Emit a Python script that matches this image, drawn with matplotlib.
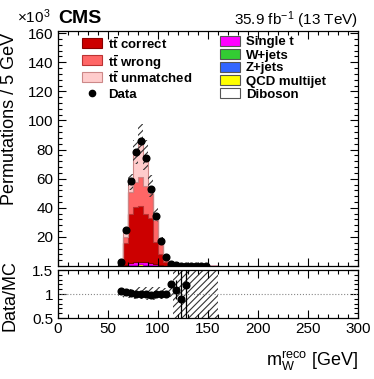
import numpy as np
import matplotlib
matplotlib.use('Agg')
import matplotlib.pyplot as plt
from matplotlib.ticker import MultipleLocator, FuncFormatter, FixedLocator
from matplotlib.patches import Rectangle

plt.rcParams['font.family'] = ['Liberation Sans', 'DejaVu Sans']
plt.rcParams['mathtext.fontset'] = 'custom'
plt.rcParams['mathtext.rm'] = 'Liberation Sans'
plt.rcParams['mathtext.bf'] = 'Liberation Sans:bold'
plt.rcParams['mathtext.it'] = 'Liberation Sans:italic'
plt.rcParams['hatch.linewidth'] = 0.8

# 5 GeV bins from 60 to 160 GeV, values in units of 10^3 permutations
edges = np.arange(60, 165, 5)

tt_correct = [1.0, 15.0, 34.0, 38.0, 38.0, 33.0, 31.0, 15.0, 7.5, 2.3, 0.35,
              0.1, 0.1, 0.08, 0, 0, 0, 0, 0, 0]
tt_wrong = [0.6, 4.0, 15.0, 17.5, 20.0, 19.5, 17.0, 15.5, 8.5, 3.0, 0.5,
            0.12, 0.13, 0.1, 0, 0, 0, 0, 0, 0]
tt_unmatched = [0.57, 3.8, 6.5, 19.5, 24.8, 20.1, 4.3, 2.9, 0.9, 1.0, 0.31,
                0.1, 0.1, 0.07, 0, 0, 0, 0, 0, 0]
single_t = [0.1, 0.6, 1.2, 1.6, 1.8, 1.6, 1.2, 0.8, 0.4, 0.15, 0.05,
            0, 0, 0, 0, 0, 0, 0, 0, 0]
w_jets = [0.02, 0.1, 0.2, 0.25, 0.3, 0.25, 0.2, 0.1, 0.05, 0.02, 0.01,
          0, 0, 0, 0, 0, 0, 0, 0, 0]
z_jets = [0.01, 0.05, 0.1, 0.12, 0.15, 0.12, 0.1, 0.05, 0.02, 0.01, 0,
          0, 0, 0, 0, 0, 0, 0, 0, 0]
qcd = [0.05, 0.2, 0.4, 0.5, 0.6, 0.5, 0.4, 0.2, 0.1, 0.05, 0.02,
       0, 0, 0, 0, 0, 0, 0, 0, 0]
diboson = [0.01, 0.02, 0.05, 0.06, 0.07, 0.06, 0.05, 0.03, 0.01, 0, 0,
           0, 0, 0, 0, 0, 0, 0, 0, 0]

data_x = [62.5, 67.5, 72.5, 77.5, 82.5, 87.5, 92.5, 97.5, 102.5, 107.5,
          112.5, 117.5, 122.5, 127.5, 132.5, 137.5, 142.5, 147.5]
data_y = [2.5, 24.8, 58.5, 78.3, 85.7, 74.3, 53.1, 34.3, 17.5, 6.5,
          1.5, 0.35, 0.3, 0.3, 0.25, 0.25, 0.2, 0.2]

# MC uncertainty (relative)
unc_up = [0.08, 0.09, 0.10, 0.12, 0.14, 0.15, 0.15, 0.15, 0.14, 0.13, 0.12,
          1, 1, 1, 1, 1, 1, 1, 1, 1]
unc_dn = [0.07, 0.08, 0.09, 0.10, 0.11, 0.12, 0.13, 0.12, 0.10, 0.08, 0.07,
          1, 1, 1, 1, 1, 1, 1, 1, 1]

ratio_x = [62.5, 67.5, 72.5, 77.5, 82.5, 87.5, 92.5, 97.5, 102.5, 107.5,
           112.5, 117.5, 122.5, 127.5]
ratio_y = [1.06, 1.04, 1.02, 1.01, 1.0, 0.99, 0.98, 0.99, 1.0, 1.0,
           1.21, 1.09, 0.90, 1.19]
ratio_err = [0.01, 0.01, 0.01, 0.01, 0.01, 0.01, 0.01, 0.01, 0.01, 0.02,
             0.06, 0.2, 1.0, 1.0]

W, H = 374, 379


def px(x, y):
    # pixel position (from top-left) -> figure fraction
    return x / W, 1 - y / H


def legend_entry(fig, x, y, label, fc=None, ec='#555555', marker=False):
    if marker:
        fig.lines.append(plt.Line2D([px(x + 10, y)[0]], [px(x + 10, y)[1]],
                                    marker='o', color='black',
                                    markersize=4.5, linestyle='none',
                                    transform=fig.transFigure))
    else:
        x0, y0 = px(x, y + 5)
        fig.patches.append(Rectangle((x0, y0), 20 / W, 10 / H, facecolor=fc,
                                     edgecolor=ec, linewidth=0.8,
                                     transform=fig.transFigure))
    tx, ty = px(x + 26, y)
    fig.text(tx, ty, label, ha='left', va='center_baseline', fontsize=9.5,
             fontweight='bold')


def main():
    fig = plt.figure(figsize=(W / 100, H / 100), dpi=100)
    ax = fig.add_axes([58 / W, 1 - 266 / H, 300 / W, 235 / H])
    rax = fig.add_axes([58 / W, 1 - 318 / H, 300 / W, 48 / H])

    # stack, bottom to top
    layers = [
        (diboson, 'white', 'none'),
        (qcd, '#ffff00', 'none'),
        (z_jets, '#3366ff', 'none'),
        (w_jets, '#33cc33', 'none'),
        (single_t, '#ff00ff', '#cc00cc'),
        (tt_correct, '#cc0000', '#880000'),
        (tt_wrong, '#ff6666', '#bb3333'),
        (tt_unmatched, '#ffcccc', '#cc8888'),
    ]
    bottom = np.zeros(len(edges) - 1)
    for vals, fc, ec in layers:
        top = bottom + np.array(vals)
        ax.stairs(top, edges, baseline=bottom, fill=True, facecolor=fc,
                  edgecolor=ec, linewidth=0.8)
        bottom = top
    total = bottom

    up = total * (1 + np.array(unc_up))
    dn = total * (1 - np.array(unc_dn))
    ax.stairs(up, edges, baseline=dn, fill=True, facecolor='none',
              edgecolor='#333333', linewidth=0, hatch='/////')

    ax.plot(data_x, data_y, 'o', color='black', markersize=4.8, zorder=5)

    ax.set_xlim(0, 300)
    ax.set_ylim(0, 161.5)
    ax.xaxis.set_major_locator(MultipleLocator(50))
    ax.xaxis.set_minor_locator(MultipleLocator(10))
    ax.yaxis.set_major_locator(FixedLocator(np.arange(0, 161, 20)))
    ax.yaxis.set_minor_locator(MultipleLocator(4))
    ax.yaxis.set_major_formatter(FuncFormatter(
        lambda v, p: '' if v == 0 else '%d' % v))
    ax.tick_params(axis='x', labelbottom=False)

    # ratio panel
    r_up = 1 + np.array(unc_up)
    r_dn = 1 - np.array(unc_dn)
    rax.stairs(r_up, edges, baseline=r_dn, fill=True, facecolor='none',
               edgecolor='#333333', linewidth=0, hatch='/////')
    rax.axhline(1.0, color='#888888', linestyle=':', linewidth=0.8)
    rax.errorbar(ratio_x, ratio_y, yerr=ratio_err, fmt='o', color='black',
                 markersize=4.8, elinewidth=0.9, capsize=0, zorder=5)
    rax.set_xlim(0, 300)
    rax.set_ylim(0.5, 1.5)
    rax.xaxis.set_major_locator(MultipleLocator(50))
    rax.xaxis.set_minor_locator(MultipleLocator(10))
    rax.yaxis.set_major_locator(MultipleLocator(0.5))
    rax.yaxis.set_minor_locator(MultipleLocator(0.1))
    rax.yaxis.set_major_formatter(FuncFormatter(lambda v, p: '%g' % v))

    for a in (ax, rax):
        a.tick_params(which='both', direction='in', top=True, right=True,
                      labelsize=11, width=0.8)
        a.tick_params(which='major', length=6)
        a.tick_params(which='minor', length=3)
        for s in a.spines.values():
            s.set_linewidth(0.9)
    rax.tick_params(axis='x', pad=3)

    # legends (left column and right column)
    tt = r'$\mathbf{t\bar{t}}$'
    legend_entry(fig, 82, 43, tt + ' correct', '#cc0000', '#880000')
    legend_entry(fig, 82, 60, tt + ' wrong', '#ff6666', '#bb3333')
    legend_entry(fig, 82, 77, tt + ' unmatched', '#ffcccc', '#cc8888')
    legend_entry(fig, 82, 93, 'Data', marker=True)
    right = [('Single t', '#ff00ff'), ('W+jets', '#33cc33'),
             ('Z+jets', '#3366ff'), ('QCD multijet', '#ffff00'),
             ('Diboson', 'white')]
    for i, (lab, fc) in enumerate(right):
        legend_entry(fig, 220, 41 + 13 * i, lab, fc)

    # labels
    fig.text(10 / W, 1 - 33 / H, 'Permutations / 5 GeV', rotation=90,
             ha='center', va='top', fontsize=13)
    fig.text(10 / W, 1 - 296 / H, 'Data/MC', rotation=90,
             ha='center', va='center', fontsize=13)
    fig.text(358 / W, 1 - 366 / H, r'm$_{\mathrm{W}}^{\mathrm{reco}}$ [GeV]',
             ha='right', va='baseline', fontsize=13)
    fig.text(17 / W, 1 - 23 / H, r'$\times$10$^{3}$', ha='left',
             va='baseline', fontsize=11)
    fig.text(58 / W, 1 - 23 / H, 'CMS', ha='left', va='baseline',
             fontsize=14, fontweight='bold')
    fig.text(358 / W, 1 - 25 / H, r'35.9 fb$^{-1}$ (13 TeV)', ha='right',
             va='baseline', fontsize=11)

    fig.savefig('out.png', dpi=100)


if __name__ == '__main__':
    main()
